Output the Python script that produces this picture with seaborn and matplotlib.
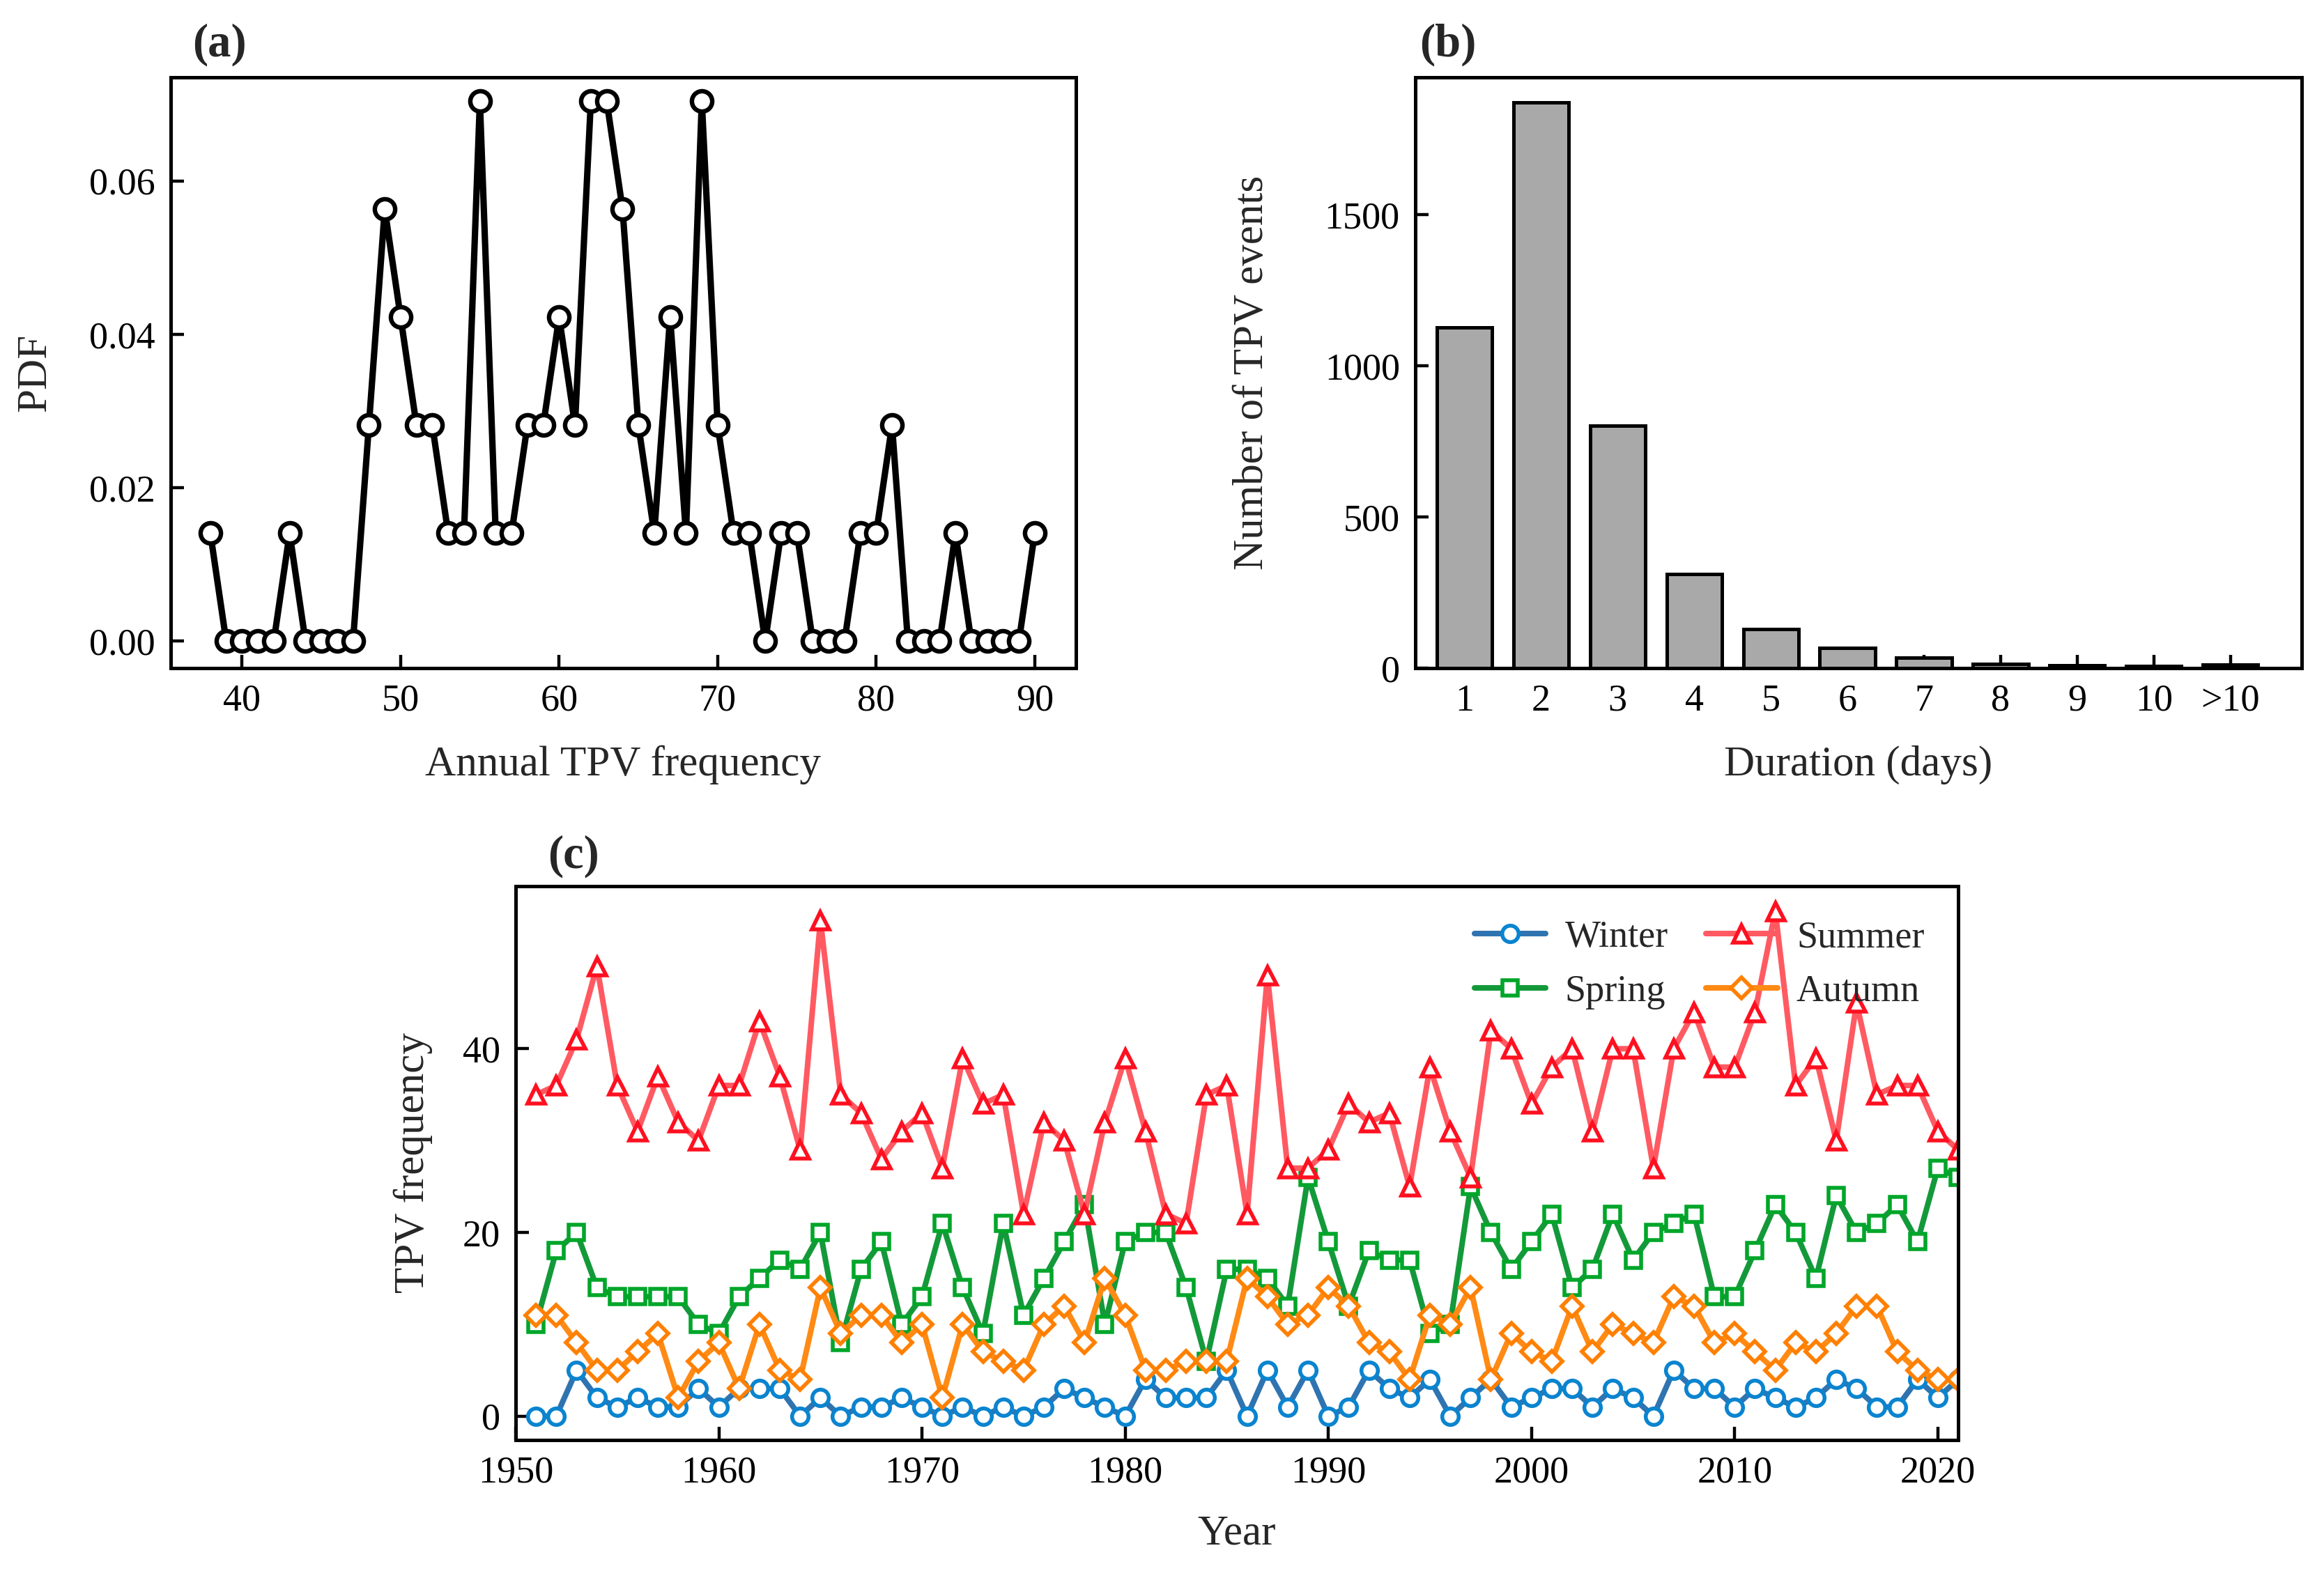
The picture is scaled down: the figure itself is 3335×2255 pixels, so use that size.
import numpy as np
import pandas as pd
import matplotlib
matplotlib.use("Agg")
import matplotlib.pyplot as plt
from matplotlib.ticker import FormatStrFormatter
import seaborn as sns

# ---------------- data ----------------
# (a) annual TPV frequency distribution (number of years with a given frequency, 1951-2021)
annual_freq = list(range(38, 91))
years_count = [1, 0, 0, 0, 0, 1, 0, 0, 0, 0,
               2, 4, 3, 2, 2, 1, 1, 5, 1, 1,
               2, 2, 3, 2, 5, 5, 4, 2, 1, 3,
               1, 5, 2, 1, 1, 0, 1, 1, 0, 0,
               0, 1, 1, 2, 0, 0, 0, 1, 0, 0,
               0, 0, 1]
n_years = 71

# (b) duration histogram
duration_labels = ["1", "2", "3", "4", "5", "6", "7", "8", "9", "10", ">10"]
duration_counts = [1128, 1871, 803, 311, 128, 68, 34, 14, 10, 6, 11]

# (c) seasonal time series
years = list(range(1951, 2022))
winter = [0, 0, 5, 2, 1, 2, 1, 1, 3, 1,
          3, 3, 3, 0, 2, 0, 1, 1, 2, 1,
          0, 1, 0, 1, 0, 1, 3, 2, 1, 0,
          4, 2, 2, 2, 5, 0, 5, 1, 5, 0,
          1, 5, 3, 2, 4, 0, 2, 4, 1, 2,
          3, 3, 1, 3, 2, 0, 5, 3, 3, 1,
          3, 2, 1, 2, 4, 3, 1, 1, 4, 2,
          4]
spring = [10, 18, 20, 14, 13, 13, 13, 13, 10, 9,
          13, 15, 17, 16, 20, 8, 16, 19, 10, 13,
          21, 14, 9, 21, 11, 15, 19, 23, 10, 19,
          20, 20, 14, 6, 16, 16, 15, 12, 26, 19,
          12, 18, 17, 17, 9, 10, 25, 20, 16, 19,
          22, 14, 16, 22, 17, 20, 21, 22, 13, 13,
          18, 23, 20, 15, 24, 20, 21, 23, 19, 27,
          26]
summer = [35, 36, 41, 49, 36, 31, 37, 32, 30, 36,
          36, 43, 37, 29, 54, 35, 33, 28, 31, 33,
          27, 39, 34, 35, 22, 32, 30, 22, 32, 39,
          31, 22, 21, 35, 36, 22, 48, 27, 27, 29,
          34, 32, 33, 25, 38, 31, 26, 42, 40, 34,
          38, 40, 31, 40, 40, 27, 40, 44, 38, 38,
          44, 55, 36, 39, 30, 45, 35, 36, 36, 31,
          29]
autumn = [11, 11, 8, 5, 5, 7, 9, 2, 6, 8,
          3, 10, 5, 4, 14, 9, 11, 11, 8, 10,
          2, 10, 7, 6, 5, 10, 12, 8, 15, 11,
          5, 5, 6, 6, 6, 15, 13, 10, 11, 14,
          12, 8, 7, 4, 11, 10, 14, 4, 9, 7,
          6, 12, 7, 10, 9, 8, 13, 12, 8, 9,
          7, 5, 8, 7, 9, 12, 12, 7, 5, 4,
          4]

# ---------------- style ----------------
sns.set_style("ticks")
plt.rcParams["font.family"] = ["Liberation Serif", "DejaVu Serif"]
plt.rcParams["axes.linewidth"] = 1.8
plt.rcParams["axes.edgecolor"] = "black"
plt.rcParams["xtick.color"] = "black"
plt.rcParams["ytick.color"] = "black"

TICK_FS = 19.5
LABEL_FS = 22

fig = plt.figure(figsize=(16.675, 11.275), dpi=200)
W, H = 3335.0, 2255.0


def add_ax(l, t, r, b):
    return fig.add_axes([l / W, 1 - b / H, (r - l) / W, (b - t) / H])


def style_ticks(ax):
    ax.tick_params(direction="in", length=7, width=1.6, labelsize=TICK_FS,
                   top=False, right=False, pad=8)
    for s in ax.spines.values():
        s.set_visible(True)
        s.set_linewidth(1.8)
        s.set_color("black")


# ---------------- (a) ----------------
ax_a = add_ax(245, 111, 1544, 959)
df_a = pd.DataFrame({"freq": annual_freq,
                     "pdf": np.array(years_count) / n_years})
sns.lineplot(data=df_a, x="freq", y="pdf", ax=ax_a, color="black",
             linewidth=3.3, marker="o", markersize=10.5,
             markerfacecolor="white", markeredgecolor="black",
             markeredgewidth=2.3)
ax_a.set_xlim(35.5, 92.6)
ax_a.set_ylim(-0.0035, 0.0735)
ax_a.set_xticks([40, 50, 60, 70, 80, 90])
ax_a.set_yticks([0.0, 0.02, 0.04, 0.06])
ax_a.yaxis.set_major_formatter(FormatStrFormatter("%.2f"))
style_ticks(ax_a)
ax_a.set_xlabel("Annual TPV frequency", fontsize=LABEL_FS)
ax_a.set_ylabel("PDF", fontsize=LABEL_FS)
ax_a.yaxis.set_label_coords(-0.128, 0.5)
ax_a.xaxis.set_label_coords(0.5, -0.131)

# ---------------- (b) ----------------
ax_b = add_ax(2031, 111, 3303, 959)
df_b = pd.DataFrame({"dur": duration_labels, "n": duration_counts})
sns.barplot(data=df_b, x="dur", y="n", order=duration_labels, ax=ax_b,
            color="#a9a9a9", saturation=1, edgecolor="black",
            linewidth=1.8, width=0.72)
ax_b.set_xlim(-0.64, 10.93)
ax_b.set_ylim(0, 1955)
ax_b.set_yticks([0, 500, 1000, 1500])
style_ticks(ax_b)
ax_b.set_xlabel("Duration (days)", fontsize=LABEL_FS)
ax_b.set_ylabel("Number of TPV events", fontsize=LABEL_FS)
ax_b.yaxis.set_label_coords(-0.162, 0.5)
ax_b.xaxis.set_label_coords(0.5, -0.131)

# ---------------- (c) ----------------
ax_c = add_ax(740, 1272, 2810, 2067)
series = [
    ("Winter", winter, "#2f74b0", "#0a84cf", "o", 8.5),
    ("Spring", spring, "#14993a", "#00a62a", "s", 8.0),
    ("Summer", summer, "#ff5a62", "#ff1020", "^", 9.0),
    ("Autumn", autumn, "#ff8a14", "#ff8000", "D", 7.5),
]
for name, vals, lc, mc, mk, ms in series:
    d = pd.DataFrame({"year": years, "value": vals})
    sns.lineplot(data=d, x="year", y="value", ax=ax_c, color=lc,
                 linewidth=2.9, marker=mk, markersize=ms,
                 markerfacecolor="white", markeredgecolor=mc,
                 markeredgewidth=2.0, label=name)
ax_c.set_xlim(1950, 2021)
ax_c.set_ylim(-2.6, 57.7)
ax_c.set_xticks(list(range(1950, 2021, 10)))
ax_c.set_yticks([0, 20, 40])
style_ticks(ax_c)
ax_c.set_xlabel("Year", fontsize=LABEL_FS)
ax_c.set_ylabel("TPV frequency", fontsize=LABEL_FS)
ax_c.yaxis.set_label_coords(-0.0575, 0.5)
ax_c.xaxis.set_label_coords(0.5, -0.135)
ax_c.legend(loc="upper right", ncol=2, frameon=False, fontsize=19.5,
            handlelength=1.9, handletextpad=0.5, columnspacing=1.0,
            labelspacing=0.5, borderaxespad=0.5)

# ---------------- panel letters ----------------
fig.text(315 / W, 1 - 64 / H, "(a)", fontsize=24, fontweight="bold",
         ha="center", va="center")
fig.text(2078 / W, 1 - 64 / H, "(b)", fontsize=24, fontweight="bold",
         ha="center", va="center")
fig.text(823 / W, 1 - 1229 / H, "(c)", fontsize=24, fontweight="bold",
         ha="center", va="center")

fig.savefig("out.png", dpi=200, facecolor="white")
